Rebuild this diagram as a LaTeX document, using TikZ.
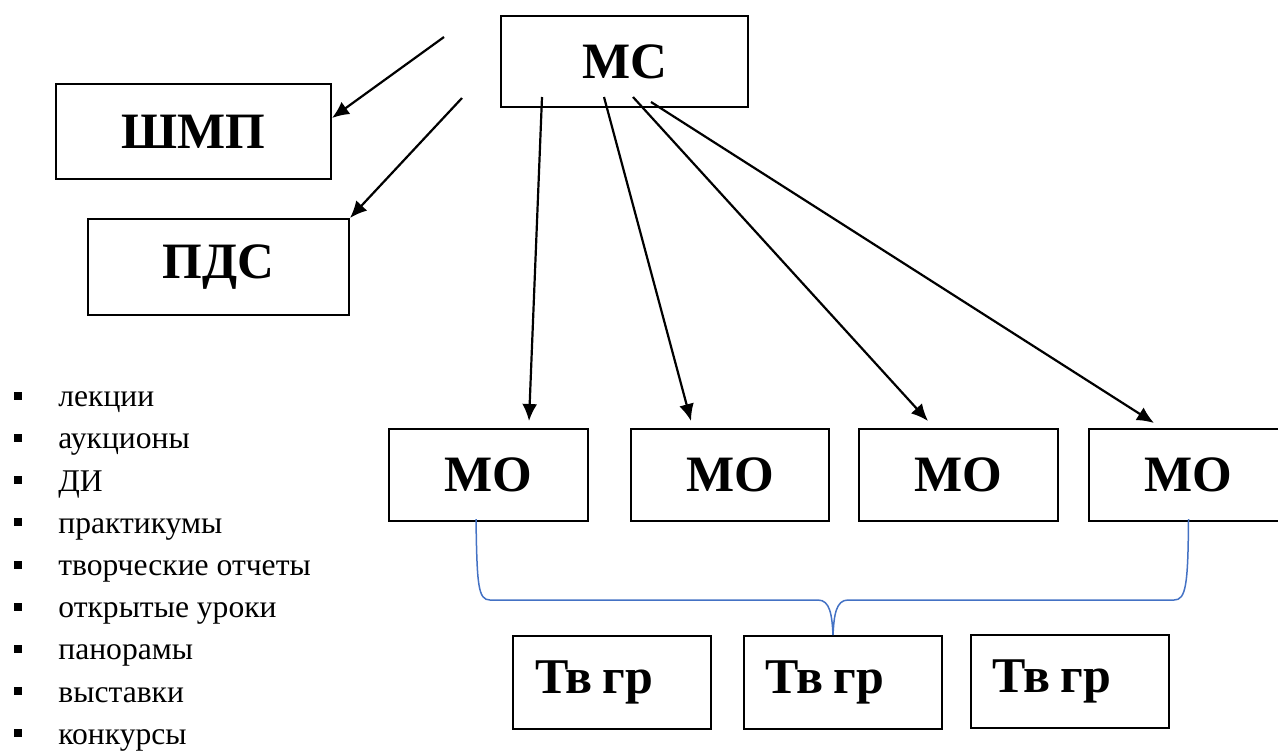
\documentclass[tikz,border=0pt]{standalone}
\usepackage{fontspec}
\setmainfont{Liberation Serif}
\usetikzlibrary{arrows.meta, positioning}

\begin{document}
\begin{tikzpicture}[x=0.5pt, y=-0.5pt]
    % Setup the styles for the boxes
        \tikzset{box style/.style={draw,
                                   rectangle,
                                   line width=1pt,
                                   inner sep=0pt,
                                   font=\fontsize{25.5}{30}\selectfont\bfseries},
                 group style/.style={box style,
                                     text width=77pt,
                                     align=left,
                                     inner xsep=11pt,
                                     minimum height=46.5pt,
                                     font=\fontsize{25}{30}\selectfont\bfseries,
                                     execute at begin node={\spaceskip=0.2em\relax}},
                 item style/.style={anchor=base west, inner sep=0pt,
                                    font=\fontsize{15.8}{18}\selectfont},
                 dot style/.style={fill=black, minimum size=4pt, inner sep=0pt}}
        \useasboundingbox (0,0) rectangle (1278,751);
        % Draw the boxes
        \node[box style, minimum width=123.5pt, minimum height=45.5pt] at (624.5,61.5) (ms) {МС};
        \node[box style, minimum width=137.5pt, minimum height=47.5pt] at (193.5,131.5) (shmp) {ШМП};
        \node[box style, minimum width=130.5pt, minimum height=48pt] at (218.5,267) (pds) {ПДС};
        \node[box style, minimum width=99.5pt, minimum height=46pt] at (488.5,475) (mo1) {МО};
        \node[box style, minimum width=99pt, minimum height=46pt] at (730,475) (mo2) {МО};
        \node[box style, minimum width=99.5pt, minimum height=46pt] at (958.5,475) (mo3) {МО};
        \node[box style, minimum width=99.5pt, minimum height=46pt] at (1188.5,475) (mo4) {МО};
        \node[group style] at (612,682.5) (tg1) {Тв гр};
        \node[group style] at (842.5,682.5) (tg2) {Тв гр};
        \node[group style] at (1069.5,681) (tg3) {Тв гр};
        % Free ends of the arrows
        \coordinate (top a) at (444,37);
        \coordinate (top b) at (462,98);
        \coordinate (ms a) at (542,97);
        \coordinate (ms b) at (604,97);
        \coordinate (ms c) at (633,97);
        \coordinate (ms d) at (651,102);
        % Connect the boxes with arrows
        \path[line width=1.1pt, -{Latex[length=8.5pt, width=7.5pt]}]
            (top a) edge ([yshift=6.75pt]shmp.east)
            (top b) edge (pds.north east)
            (ms a)  edge ([xshift=20.25pt, yshift=3.5pt]mo1.north)
            (ms b)  edge ([xshift=-19.5pt, yshift=3.5pt]mo2.north)
            (ms c)  edge ([xshift=-15.25pt, yshift=3.5pt]mo3.north)
            (ms d)  edge ([xshift=-17.25pt, yshift=2.5pt]mo4.north);
        % The brace under the MO boxes
        \coordinate (br l) at ([xshift=-6.25pt, yshift=1.5pt]mo1.south);
        \coordinate (br r) at ([yshift=1.5pt]mo4.south);
        \coordinate (br tip) at ([xshift=-4.75pt]tg2.north);
        \draw[color={rgb,255:red,68;green,114;blue,196}, line width=0.75pt]
            (br l) .. controls (477,585) and (478,600) .. (490,600) -- (818,600)
                   .. controls (830,600) and (832,615) .. (br tip)
                   .. controls (834,615) and (836,600) .. (848,600) -- (1174,600)
                   .. controls (1186,600) and (1188,585) .. (br r);
        % The list of forms
        \foreach \txt [count=\i] in {лекции, аукционы, ДИ, практикумы, творческие отчеты,
                                    открытые уроки, панорамы, выставки, конкурсы}
        {
            \node[item style] at (58,364.5+42.2*\i) (item\i) {\txt};
            \node[dot style] at (17.5,353.5+42.2*\i) (dot\i) {};
        }
\end{tikzpicture}
\end{document}
